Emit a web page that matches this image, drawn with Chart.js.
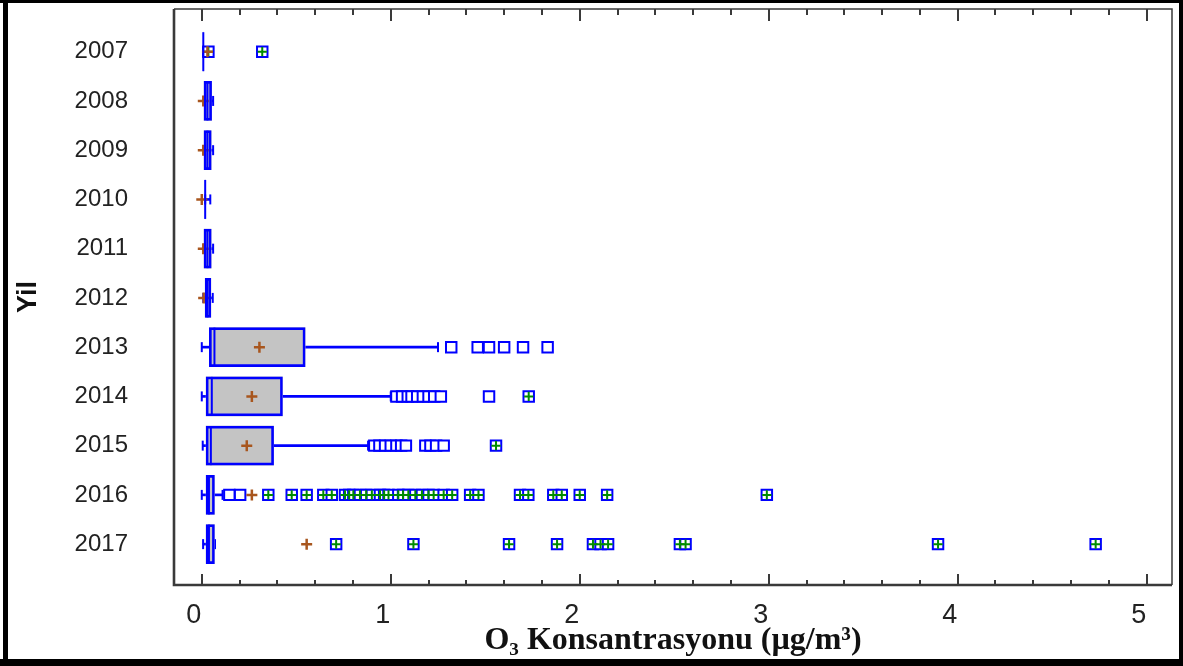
<!DOCTYPE html>
<html><head><meta charset="utf-8">
<script src="https://cdn.jsdelivr.net/npm/chart.js@4.4.0/dist/chart.umd.min.js"></script>
<style>html,body{margin:0;padding:0;background:#fff}canvas{display:block}</style>
</head><body>
<canvas id="c" width="1183" height="666"></canvas>
<script>
// ---- data ----
const years = [2007, 2008, 2009, 2010, 2011, 2012, 2013, 2014, 2015, 2016, 2017];
const yearLabels = ['2007','2008','2009','2010','2011','2012','2013','2014','2015','2016','2017'];
const q1    = [0.008, 0.012, 0.012, 0.018, 0.012, 0.018, 0.040, 0.023, 0.023, 0.023, 0.023];
const q3    = [0.008, 0.052, 0.050, 0.018, 0.050, 0.048, 0.547, 0.427, 0.380, 0.067, 0.067];
const med   = [0.008, 0.030, 0.030, 0.018, 0.030, 0.030, 0.067, 0.053, 0.048, 0.038, 0.038];
const whLo  = [0.008, 0.012, 0.012, 0.018, 0.012, 0.008, 0.000, 0.000, 0.005, 0.000, 0.007];
const whHi  = [0.008, 0.060, 0.060, 0.045, 0.060, 0.058, 1.250, 1.000, 0.880, 0.110, 0.070];
const means = [0.030, 0.008, 0.008, 0.000, 0.008, 0.010, 0.305, 0.265, 0.238, 0.265, 0.555];
const nearOut = [
  [], [], [], [], [], [],
  [1.32, 1.46, 1.52, 1.60, 1.70, 1.83],
  [1.03, 1.06, 1.09, 1.11, 1.14, 1.17, 1.20, 1.23, 1.265, 1.52],
  [0.913, 0.94, 0.97, 1.00, 1.03, 1.055, 1.08, 1.183, 1.21, 1.24, 1.28],
  [0.146, 0.203],
  []
];
const farOut = [
  [0.035, 0.32],
  [], [], [], [], [], [],
  [1.73],
  [1.557],
  [0.352, 0.476, 0.555, 0.643, 0.688, 0.758, 0.78, 0.802, 0.837, 0.87, 0.90, 0.943, 0.965, 0.988,
   1.04, 1.065, 1.093, 1.13, 1.165, 1.20, 1.227, 1.28, 1.325, 1.42, 1.464, 1.684, 1.728, 1.86, 1.905,
   2.00, 2.145, 2.99],
  [0.711, 1.12, 1.626, 1.88, 2.07, 2.11, 2.15, 2.53, 2.56, 3.896, 4.73]
];
const xTicks = [0, 1, 2, 3, 4, 5];
const xTickLabels = ['0', '1', '2', '3', '4', '5'];
const xTitle = 'O\u2083 Konsantrasyonu (\u00b5g/m\u00b3)';
const yTitle = 'Yil';

// ---- styles ----
const BLUE = '#0000ff', GRAY = '#c4c4c4', BROWN = '#a8561e', GREEN = '#008c00';

const boxData = years.map((y, i) => ({x: [q1[i], q3[i]], y}));
const lowWh = years.map((y, i) => ({x: [whLo[i], q1[i]], y}));
const highWh = years.map((y, i) => ({x: [q3[i], whHi[i]], y}));
const capData = years.flatMap((y, i) => [{x: whLo[i], y}, {x: whHi[i], y}]);
const medData = years.map((y, i) => ({x: med[i], y}));
const meanData = years.map((y, i) => ({x: means[i], y}));
const nearData = years.flatMap((y, i) => nearOut[i].map(v => ({x: v, y})));
const farData = years.flatMap((y, i) => farOut[i].map(v => ({x: v, y})));

const framePlugin = {
  id: 'frame',
  beforeDraw(chart) {
    const ctx = chart.ctx;
    ctx.save();
    ctx.fillStyle = '#fff';
    ctx.fillRect(0, 0, chart.width, chart.height);
    ctx.restore();
  },
  afterDraw(chart) {
    const {ctx, chartArea: a, scales: {x}} = chart;
    ctx.save();
    ctx.strokeStyle = '#3a3a3a';
    ctx.lineWidth = 1.5;
    ctx.beginPath();
    ctx.moveTo(a.left, a.top); ctx.lineTo(a.right, a.top); ctx.lineTo(a.right, a.bottom);
    ctx.stroke();
    ctx.lineWidth = 2.6;
    ctx.beginPath();
    ctx.moveTo(a.left, a.top); ctx.lineTo(a.left, a.bottom); ctx.lineTo(a.right, a.bottom);
    ctx.stroke();
    ctx.lineWidth = 2;
    for (let k = 0; k <= 25; k++) {
      const px = Math.round(x.getPixelForValue(k / 5));
      const len = (k % 5 === 0) ? 11 : 5;
      ctx.beginPath();
      ctx.moveTo(px, a.bottom); ctx.lineTo(px, a.bottom - len);
      ctx.moveTo(px, a.top); ctx.lineTo(px, a.top + len + 1);
      ctx.stroke();
    }
    // outer border
    ctx.fillStyle = '#000';
    ctx.fillRect(0, 0, chart.width, 3);
    ctx.fillRect(3, 0, 5, chart.height);
    ctx.fillRect(0, chart.height - 7, chart.width, 7);
    ctx.fillRect(chart.width - 4, 0, 4, chart.height);
    ctx.restore();
  }
};

new Chart(document.getElementById('c'), {
  type: 'bar',
  data: {
    datasets: [
      {type: 'scatter', data: medData, order: 0, pointStyle: 'line', rotation: 90, pointRadius: 19.5,
       borderColor: BLUE, pointBorderWidth: 2},
      {type: 'bar', data: boxData, order: 1, indexAxis: 'y', grouped: false, barThickness: 39,
       backgroundColor: 'rgba(0,0,0,0)', borderColor: BLUE, borderWidth: 2, borderSkipped: false},
      {type: 'scatter', data: meanData, order: 2, pointStyle: 'cross', pointRadius: 5.5,
       borderColor: BROWN, pointBorderWidth: 2.5, backgroundColor: BROWN},
      {type: 'scatter', data: farData, order: 3, pointStyle: 'cross', pointRadius: 4.6,
       borderColor: GREEN, pointBorderWidth: 2, backgroundColor: GREEN},
      {type: 'scatter', data: farData, order: 4, pointStyle: 'rect', pointRadius: 7.4,
       borderColor: BLUE, pointBorderWidth: 2, backgroundColor: '#ffffff'},
      {type: 'scatter', data: nearData, order: 5, pointStyle: 'rect', pointRadius: 7.4,
       borderColor: BLUE, pointBorderWidth: 2, backgroundColor: '#ffffff'},
      {type: 'bar', data: boxData, order: 6, indexAxis: 'y', grouped: false, barThickness: 39,
       backgroundColor: GRAY, borderWidth: 0},
      {type: 'scatter', data: capData, order: 7, pointStyle: 'line', rotation: 90, pointRadius: 5,
       borderColor: BLUE, pointBorderWidth: 2},
      {type: 'bar', data: lowWh, order: 8, indexAxis: 'y', grouped: false, barThickness: 2,
       backgroundColor: BLUE, borderWidth: 0},
      {type: 'bar', data: highWh, order: 8, indexAxis: 'y', grouped: false, barThickness: 2,
       backgroundColor: BLUE, borderWidth: 0}
    ]
  },
  options: {
    responsive: false,
    animation: false,
    events: [],
    layout: {autoPadding: false, padding: {left: 8, right: 11, top: 9, bottom: 8}},
    plugins: {legend: {display: false}, tooltip: {enabled: false}},
    scales: {
      x: {
        type: 'linear', position: 'bottom', min: -0.147, max: 5.134, offset: false,
        grid: {display: false, offset: false}, border: {display: false},
        afterBuildTicks: s => { s.ticks = xTicks.map(v => ({value: v})); },
        afterFit: s => { s.height = 73; s.paddingLeft = 0; s.paddingRight = 0; },
        ticks: {
          callback: v => xTickLabels[xTicks.indexOf(v)],
          font: {family: 'Liberation Sans, Arial, sans-serif', size: 27},
          color: '#222', padding: 6, labelOffset: -8, maxRotation: 0, autoSkip: false
        },
        title: {display: true, text: xTitle, color: '#111',
          font: {family: 'Liberation Serif, Times New Roman, serif', size: 32, weight: 'bold'},
          padding: {top: 0, bottom: -2}}
      },
      y: {
        type: 'linear', position: 'left', reverse: true, min: 2006.133, max: 2017.83, offset: false,
        grid: {display: false, offset: false}, border: {display: false},
        afterBuildTicks: s => { s.ticks = years.map(v => ({value: v})); },
        afterFit: s => { s.width = 166; s.paddingTop = 0; s.paddingBottom = 0; },
        ticks: {
          callback: v => yearLabels[years.indexOf(v)],
          font: {family: 'Liberation Sans, Arial, sans-serif', size: 24},
          color: '#222', padding: 38, labelOffset: 0, autoSkip: false
        },
        title: {display: true, text: yTitle, color: '#111',
          font: {family: 'Liberation Sans, Arial, sans-serif', size: 27, weight: 'bold'},
          padding: {top: 4, bottom: 0}}
      }
    }
  },
  plugins: [framePlugin]
});
</script>
</body></html>
